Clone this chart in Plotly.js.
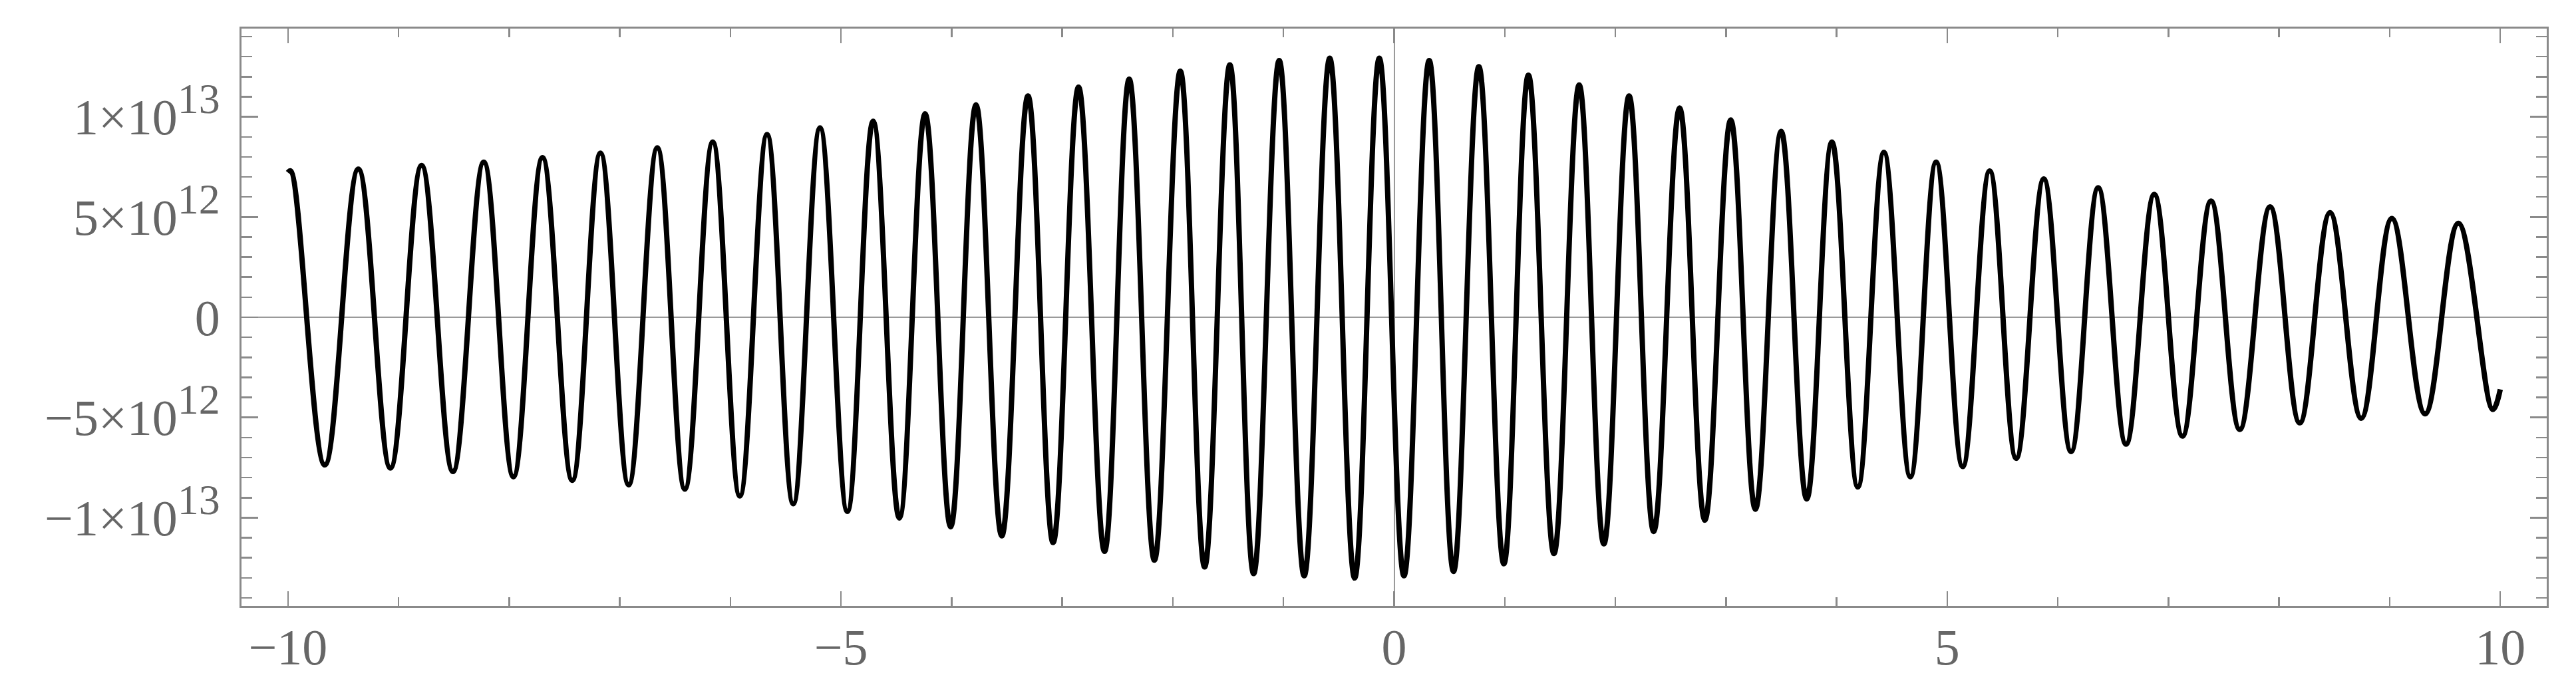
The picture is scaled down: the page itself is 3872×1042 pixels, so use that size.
<!DOCTYPE html>
<html>
<head>
<meta charset="utf-8">
<script src="https://cdn.plot.ly/plotly-3.0.1.min.js"></script>
<style>
  html, body { margin: 0; padding: 0; background: #fff; }
  #plot { width: 3872px; height: 1042px; }
</style>
</head>
<body>
<div id="plot"></div>
<script>
// extrema of the curve (x, and y in units of 1e12)
const xs = [
  -10.000, -9.975, -9.667, -9.364, -9.074, -8.792, -8.509, -8.230, -7.962, -7.699,
  -7.430, -7.175, -6.920, -6.661, -6.412, -6.160, -5.915, -5.669, -5.432, -5.190,
  -4.943, -4.710, -4.473, -4.240, -4.009, -3.780, -3.547, -3.310, -3.083, -2.853,
  -2.618, -2.395, -2.167, -1.933, -1.713, -1.485, -1.270, -1.039, -0.813, -0.582,
  -0.357, -0.134, 0.089, 0.317, 0.537, 0.766, 0.992, 1.214, 1.445, 1.673,
  1.896, 2.124, 2.347, 2.581, 2.809, 3.043, 3.266, 3.499, 3.730, 3.958,
  4.192, 4.428, 4.667, 4.900, 5.140, 5.384, 5.624, 5.873, 6.120, 6.365,
  6.617, 6.872, 7.127, 7.385, 7.645, 7.919, 8.187, 8.461, 8.743, 9.020,
  9.320, 9.621, 9.932, 10.000
]
const ys12 = [
  7.22, 7.30, -7.37, 7.39, -7.52, 7.57, -7.70, 7.74, -7.96, 7.96,
  -8.14, 8.19, -8.36, 8.45, -8.58, 8.74, -8.92, 9.12, -9.31, 9.45,
  -9.69, 9.78, -10.02, 10.15, -10.46, 10.60, -10.91, 11.04, -11.24, 11.48,
  -11.68, 11.88, -12.12, 12.28, -12.46, 12.59, -12.79, 12.81, -12.90, 12.92,
  -13.01, 12.92, -12.90, 12.81, -12.68, 12.50, -12.30, 12.08, -11.79, 11.59,
  -11.31, 11.04, -10.69, 10.44, -10.13, 9.85, -9.58, 9.27, -9.07, 8.74,
  -8.47, 8.23, -7.96, 7.74, -7.45, 7.30, -7.04, 6.90, -6.70, 6.46,
  -6.33, 6.13, -5.93, 5.80, -5.60, 5.51, -5.27, 5.22, -5.04, 4.93,
  -4.82, 4.69, -4.60, -3.60
]

const xTickVals = [-10, -5, 0, 5, 10]
const xTickText = ['\u221210', '\u22125', '0', '5', '10']
const yTickVals = [-1e13, -5e12, 0, 5e12, 1e13]
// exponent drawn a bit bigger than plotly's default 70% superscript
const sup = s => `<sup><span style="font-size:64px">${s}</span></sup>`
const yTickText = ['\u22121\u00d710' + sup('13'), '\u22125\u00d710' + sup('12'), '0',
                   '5\u00d710' + sup('12'), '1\u00d710' + sup('13')]

const frameColor = '#8a8a8a'
const labelFont = { family: 'Liberation Serif, Times New Roman, serif', size: 76, color: '#666666' }

const trace = {
    x: xs,
    y: ys12.map(v => v * 1e12),
    mode: 'lines',
    type: 'scatter',
    line: { color: '#000000', width: 8, shape: 'spline', smoothing: 1.1, simplify: false },
    hoverinfo: 'skip'
}

Plotly.newPlot('plot', [trace], {
    width: 3872,
    height: 1042,
    margin: { l: 363, r: 44, t: 43, b: 131 },
    paper_bgcolor: '#ffffff',
    plot_bgcolor: '#ffffff',
    showlegend: false,
    xaxis: {
        range: [-10.42, 10.42],
        tickmode: 'array',
        tickvals: xTickVals,
        ticktext: xTickText,
        ticks: 'inside',
        ticklen: 22,
        tickwidth: 2.5,
        tickcolor: frameColor,
        minor: { dtick: 1, tick0: 0, ticks: 'inside', ticklen: 13, tickwidth: 2.5, tickcolor: frameColor },
        showline: true,
        linecolor: frameColor,
        linewidth: 3,
        mirror: 'ticks',
        showgrid: false,
        zeroline: true,
        zerolinecolor: '#9a9a9a',
        zerolinewidth: 2,
        tickfont: labelFont,
        ticklabelstandoff: -6
    },
    yaxis: {
        range: [-1.44e13, 1.44e13],
        tickmode: 'array',
        tickvals: yTickVals,
        ticktext: yTickText,
        ticks: 'inside',
        ticklen: 25,
        tickwidth: 2.5,
        tickcolor: frameColor,
        minor: { dtick: 1e12, tick0: 0, ticks: 'inside', ticklen: 16, tickwidth: 2.5, tickcolor: frameColor },
        showline: true,
        linecolor: frameColor,
        linewidth: 3,
        mirror: 'ticks',
        showgrid: false,
        zeroline: true,
        zerolinecolor: '#9a9a9a',
        zerolinewidth: 2,
        tickfont: labelFont,
        ticklabelstandoff: 14
    }
}, { displayModeBar: false, staticPlot: true })
</script>
</body>
</html>
